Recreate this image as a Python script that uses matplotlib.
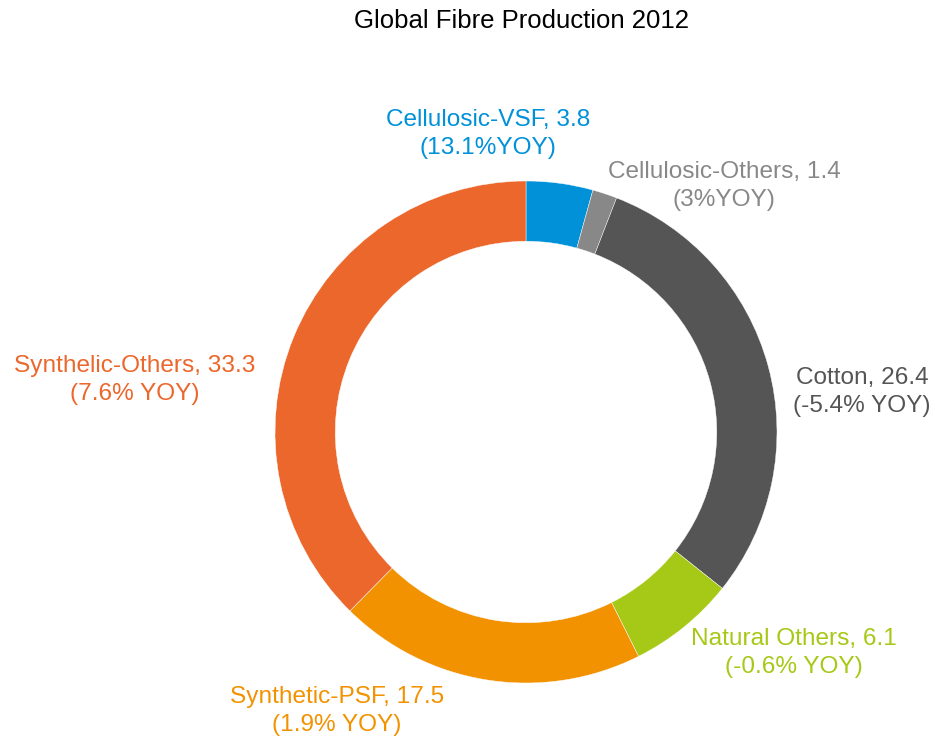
import matplotlib
matplotlib.use("Agg")
import matplotlib.pyplot as plt

plt.rcParams['font.family'] = ['Liberation Sans', 'DejaVu Sans']

categories = ["Cellulosic-VSF", "Cellulosic-Others", "Cotton", "Natural Others", "Synthetic-PSF", "Synthelic-Others"]
values = [3.8, 1.4, 26.4, 6.1, 17.5, 33.3]
yoy = ["(13.1%YOY)", "(3%YOY)", "(-5.4% YOY)", "(-0.6% YOY)", "(1.9% YOY)", "(7.6% YOY)"]
colors = ["#0091D9", "#888888", "#555555", "#A6C816", "#F29200", "#EB672C"]
title = "Global Fibre Production 2012"

W, H = 935, 742
cx, cy, R = 526, 432, 251

fig = plt.figure(figsize=(W / 100, H / 100), dpi=100)
ax = fig.add_axes([0, 0, 1, 1])

ax.pie(values, colors=colors, startangle=90, counterclock=False, radius=1,
       wedgeprops=dict(width=0.24, edgecolor='white', linewidth=0.3))
ax.set_aspect('auto')
ax.set_xlim(-cx / R, (W - cx) / R)
ax.set_ylim(-(H - cy) / R, cy / R)
ax.axis('off')

def px(x, y):
    return (x - cx) / R, (cy - y) / R

label_px = [(488, 134), (724, 186), (862, 392), (794, 653), (337, 711), (135, 380)]
for cat, v, y, c, (lx, ly) in zip(categories, values, yoy, colors, label_px):
    tx, ty = px(lx, ly)
    ax.text(tx, ty, f"{cat}, {v}\n{y}", color=c, ha='center', va='center',
            fontsize=17.6, linespacing=1.3)

tx, ty = px(522, 21)
ax.text(tx, ty, title, ha='center', va='center', fontsize=18.5, color='black')

fig.savefig("out.png", dpi=100)
